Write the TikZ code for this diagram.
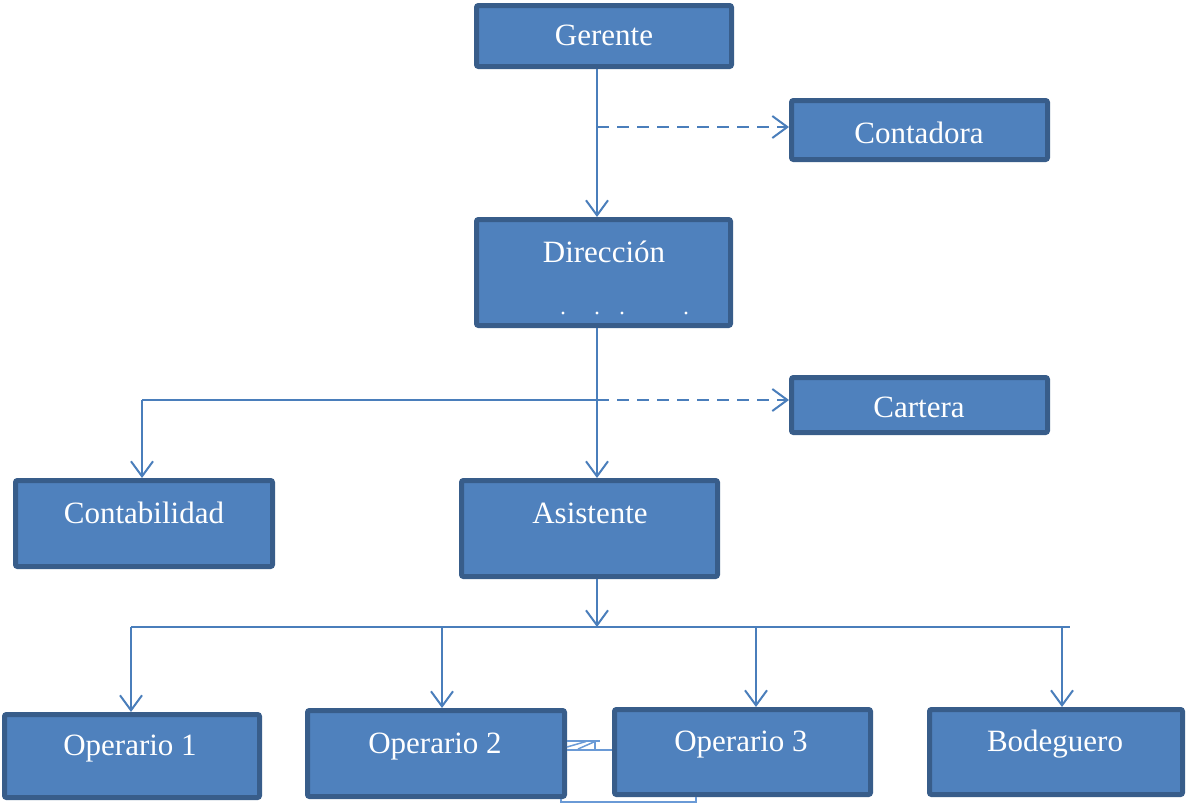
\documentclass[tikz,border=0pt]{standalone}
\usepackage{fontspec}
\setmainfont{Liberation Serif}
\usetikzlibrary{arrows.meta}
\definecolor{boxfill}{HTML}{4F81BD}
\definecolor{boxline}{HTML}{385D8A}
\definecolor{conn}{HTML}{4A7EBB}
\definecolor{stray}{HTML}{6A9AD6}
\begin{document}
\begin{tikzpicture}[x=1pt,y=-1pt,
  box/.style={draw=boxline,fill=boxfill,line width=5pt,rounded corners=2pt,inner sep=0pt},
  txt/.style={anchor=base,text=white,inner sep=0pt,font=\fontsize{31}{36}\selectfont},
  link/.style={draw=conn,line width=2pt},
  tip/.style={-{Straight Barb[length=15pt,width=22pt,line width=2pt]}},
  dashlink/.style={link,dash pattern=on 12pt off 8pt},
  straylink/.style={draw=stray,line width=1.5pt}
]
\useasboundingbox (0,0) rectangle (1186,803);
% boxes
\node[box,minimum width=255,minimum height=61] (ger) at (604,36) {};
\node[box,minimum width=256,minimum height=59] (cont) at (919.5,130) {};
\node[box,minimum width=254,minimum height=106] (dir) at (603.5,272.5) {};
\node[box,minimum width=256,minimum height=55] (cart) at (919.5,405) {};
\node[box,minimum width=257,minimum height=86] (contab) at (144,523.5) {};
\node[box,minimum width=256,minimum height=96] (asis) at (589.5,528.5) {};
\node[box,minimum width=255,minimum height=83] (op1) at (132,756) {};
\node[box,minimum width=257,minimum height=86] (op2) at (436,753.5) {};
\node[box,minimum width=256,minimum height=85] (op3) at (742.5,752) {};
\node[box,minimum width=253,minimum height=85] (bod) at (1056,752) {};
% texts
\node[txt] (gert) at (604,45) {Gerente};
\node[txt] (contt) at (919,143) {Contadora};
\node[txt] (dirt) at (604,262) {Dirección};
\node[txt] (cartt) at (919,417) {Cartera};
\node[txt] (contabt) at (144,523) {Contabilidad};
\node[txt] (asist) at (590,523) {Asistente};
\node[txt] (op1t) at (130,755) {Operario 1};
\node[txt] (op2t) at (435,753) {Operario 2};
\node[txt] (op3t) at (741,751) {Operario 3};
\node[txt] (bodt) at (1055,751) {Bodeguero};
% dots in Direccion
\foreach \dx [count=\i] in {563,597,622,686}
  \fill[white] (\dx,313) circle[radius=1.6pt];
% junction coordinates
\coordinate (j1) at (597,127);
\coordinate (j2) at (597,400);
\coordinate (j2l) at (142,400);
\coordinate (j3) at (597,627);
\coordinate (j3l) at (131,627);
\coordinate (j3r) at (1070,627);
\coordinate (b2) at (442,627);
\coordinate (b3) at (756,627);
\coordinate (b4) at (1062,627);
% connectors
\draw[link,tip] (ger.south -| j1) -- (dir.north -| j1);
\draw[dashlink,tip] (j1) -- (cont.west |- j1);
\draw[link,tip] (dir.south -| j2) -- (asis.north -| j2);
\draw[link] (j2) -- (j2l);
\draw[link,tip] (j2l) -- (contab.north -| j2l);
\draw[dashlink,tip] (j2) -- (cart.west |- j2);
\draw[link,tip] (asis.south -| j3) -- (j3);
\draw[link] (j3l) -- (j3r);
\draw[link,tip] (j3l) -- (op1.north -| j3l);
\draw[link,tip] (b2) -- (op2.north -| b2);
\draw[link,tip] (b3) -- (op3.north -| b3);
\draw[link,tip] (b4) -- (bod.north -| b4);
% stray strokes between Operario 2 and Operario 3
\coordinate (s1) at (600,741);
\coordinate (s2) at (595,750);
\coordinate (s3) at (561,802);
\coordinate (s4) at (696,802);
\draw[straylink] (op2.east |- s1) -- (s1);
\draw[straylink] (567,747) -- (586,741.5);
\draw[straylink] (578,749) -- (595,741.5);
\draw[straylink] (595,741) -- (s2);
\draw[straylink] (op2.east |- s2) -- (op3.west |- s2);
\draw[straylink] (op2.south -| s3) -- (s3) -- (s4) -- (op3.south -| s4);
\end{tikzpicture}
\end{document}
